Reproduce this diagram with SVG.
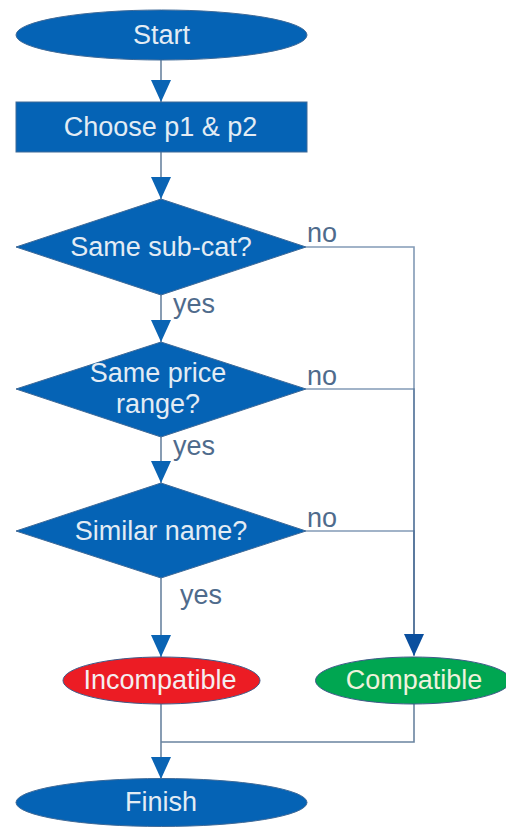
<svg xmlns="http://www.w3.org/2000/svg" width="506" height="829" viewBox="0 0 506 829">
<style>
.node{fill:#0563b5;stroke:#3f6a98;stroke-width:1}
.t{font-family:"Liberation Sans",Arial,sans-serif;font-size:27px;text-anchor:middle;fill:#e3ecf4}
.lbl{font-family:"Liberation Sans",Arial,sans-serif;font-size:27px;fill:#4f6b8c}
.c{fill:none;stroke:#6a84a0;stroke-width:1.6}
.c2{fill:none;stroke:#4d6f96;stroke-width:1.6;stroke-opacity:0.7}
</style>
<defs>
<marker id="ah" markerUnits="userSpaceOnUse" markerWidth="22" markerHeight="20" refX="22" refY="10" orient="auto" viewBox="0 0 22 20">
<path d="M0,0 L22,10 L0,20 z" fill="#0a64b4"/>
</marker>
<marker id="ahd" markerUnits="userSpaceOnUse" markerWidth="22" markerHeight="20" refX="22" refY="10" orient="auto" viewBox="0 0 22 20">
<path d="M0,0 L22,10 L0,20 z" fill="#0a4f9e"/>
</marker>
</defs>
<g id="connectors">
<path class="c" d="M161,60 V102" marker-end="url(#ah)"/>
<path class="c" d="M161,152 V199" marker-end="url(#ah)"/>
<path class="c" d="M161,295 V342" marker-end="url(#ah)"/>
<path class="c" d="M161,437 V483" marker-end="url(#ah)"/>
<path class="c" d="M161,578 V657" marker-end="url(#ah)"/>
<path class="c2" d="M306,247 H414 V655"/>
<path class="c2" d="M306,389 H414 V655"/>
<path class="c2" d="M306,531 H414 V656" marker-end="url(#ahd)"/>
<path class="c" d="M161,704 V779" marker-end="url(#ah)"/>
<path class="c" d="M414,704 V742 H161"/>
<text class="lbl" x="307" y="242">no</text>
<text class="lbl" x="307" y="385">no</text>
<text class="lbl" x="307" y="527">no</text>
<text class="lbl" x="173" y="313">yes</text>
<text class="lbl" x="173" y="455">yes</text>
<text class="lbl" x="180" y="604">yes</text>
</g>
<g id="start">
<ellipse class="node" cx="161.5" cy="35" rx="145.5" ry="25"/>
<text class="t" x="161.5" y="44">Start</text>
</g>
<g id="choose">
<rect class="node" x="16" y="102" width="291" height="50"/>
<text class="t" x="160.5" y="136">Choose p1 &amp; p2</text>
</g>
<g id="d1">
<polygon class="node" points="161,199 306,247 161,295 16,247"/>
<text class="t" x="161" y="256">Same sub-cat?</text>
</g>
<g id="d2">
<polygon class="node" points="161,342 306,389 161,437 16,389"/>
<text class="t" x="158" y="382">Same price</text>
<text class="t" x="158" y="413">range?</text>
</g>
<g id="d3">
<polygon class="node" points="161,483 306,531 161,578 16,531"/>
<text class="t" x="161" y="540">Similar name?</text>
</g>
<g id="incompatible">
<ellipse cx="161.5" cy="680.5" rx="98.5" ry="23.5" fill="#ec1c24" stroke="#3f5a88" stroke-width="1"/>
<text class="t" x="160" y="689" style="fill:#f4eef0">Incompatible</text>
</g>
<g id="compatible">
<ellipse cx="413" cy="680.5" rx="97.5" ry="23.5" fill="#00a651" stroke="#3f5a88" stroke-width="1"/>
<text class="t" x="414" y="689" style="fill:#eef2dc">Compatible</text>
</g>
<g id="finish">
<ellipse class="node" cx="161.5" cy="802.5" rx="145.5" ry="24"/>
<text class="t" x="161" y="811">Finish</text>
</g>
</svg>
